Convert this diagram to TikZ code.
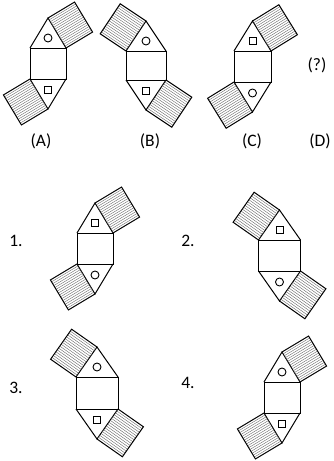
\documentclass[tikz,border=0pt]{standalone}
\usepackage{fontspec}
\setmainfont{Carlito}
\usetikzlibrary{calc}

\tikzset{
  edge/.style={draw=black, line width=1pt, line join=miter},
  symline/.style={draw=black, line width=0.9pt},
  hatchline/.style={draw=black!60, line width=0.4pt},
  lbl/.style={font=\fontsize{17.5}{20}\selectfont, inner sep=0pt}
}

% rectangle with a triangle on top and below
\newcommand{\netfig}[4]{%
  \coordinate (L) at ({#1-#3/2},#2);
  \coordinate (R) at ({#1+#3/2},#2);
  \coordinate (BL) at ({#1-#3/2},{#2+#4});
  \coordinate (BR) at ({#1+#3/2},{#2+#4});
  \coordinate (T) at (#1,{#2-30});
  \coordinate (B) at (#1,{#2+#4+30});
  \coordinate (ts) at (#1,{#2-10});
  \coordinate (bs) at (#1,{#2+#4+11});
  \draw[edge] (L) rectangle (BR);
  \draw[edge] (L) -- (T) -- (R);
  \draw[edge] (BL) -- (B) -- (BR);
}
% hatched square on the side #1--#2
\newcommand{\hatchside}[2]{%
  \coordinate (hD) at ($(#1)!31pt!90:(#2)$);
  \coordinate (hC) at ($(#2)!31pt!-90:(#1)$);
  \foreach \k in {1,...,15}{
    \pgfmathsetmacro\hfrac{\k/16}
    \draw[hatchline] ($(#1)!\hfrac!(#2)$) -- ($(hD)!\hfrac!(hC)$);
  }
  \draw[edge] (#1) -- (hD) -- (hC) -- (#2);
}
\newcommand{\symcirc}[1]{\draw[symline] (#1) circle[radius=4pt];}
\newcommand{\symsq}[1]{\draw[symline] ($(#1)+(-3.5,-3.5)$) rectangle ++(7,7);}

\begin{document}
\begin{tikzpicture}[x=1pt,y=-1pt]
    \useasboundingbox (0,0) rectangle (334,461);

    % question row
    \netfig{48}{48}{36}{31}
    \hatchside{T}{R} \hatchside{B}{BL}
    \symcirc{ts} \symsq{bs}

    \netfig{146}{51}{40}{29}
    \hatchside{L}{T} \hatchside{BR}{B}
    \symcirc{ts} \symsq{bs}

    \netfig{252.5}{51}{37}{31}
    \hatchside{T}{R} \hatchside{B}{BL}
    \symsq{ts} \symcirc{bs}

    \node[lbl] (qmark) at (317,65) {(?)};
    \node[lbl] (labA) at (41,141) {(A)};
    \node[lbl] (labB) at (150,141) {(B)};
    \node[lbl] (labC) at (252,141) {(C)};
    \node[lbl] (labD) at (320,141) {(D)};

    % answer options
    \netfig{95}{233}{36}{31}
    \hatchside{T}{R} \hatchside{B}{BL}
    \symsq{ts} \symcirc{bs}

    \netfig{279.5}{240}{42}{31}
    \hatchside{L}{T} \hatchside{BR}{B}
    \symsq{ts} \symcirc{bs}

    \netfig{97}{377}{42}{32}
    \hatchside{L}{T} \hatchside{BR}{B}
    \symcirc{ts} \symsq{bs}

    \netfig{282}{382}{36}{31}
    \hatchside{T}{R} \hatchside{B}{BL}
    \symcirc{ts} \symsq{bs}

    \node[lbl] (opt1) at (16,241) {1.};
    \node[lbl] (opt2) at (188,241) {2.};
    \node[lbl] (opt3) at (16,388) {3.};
    \node[lbl] (opt4) at (188,383) {4.};
\end{tikzpicture}
\end{document}
